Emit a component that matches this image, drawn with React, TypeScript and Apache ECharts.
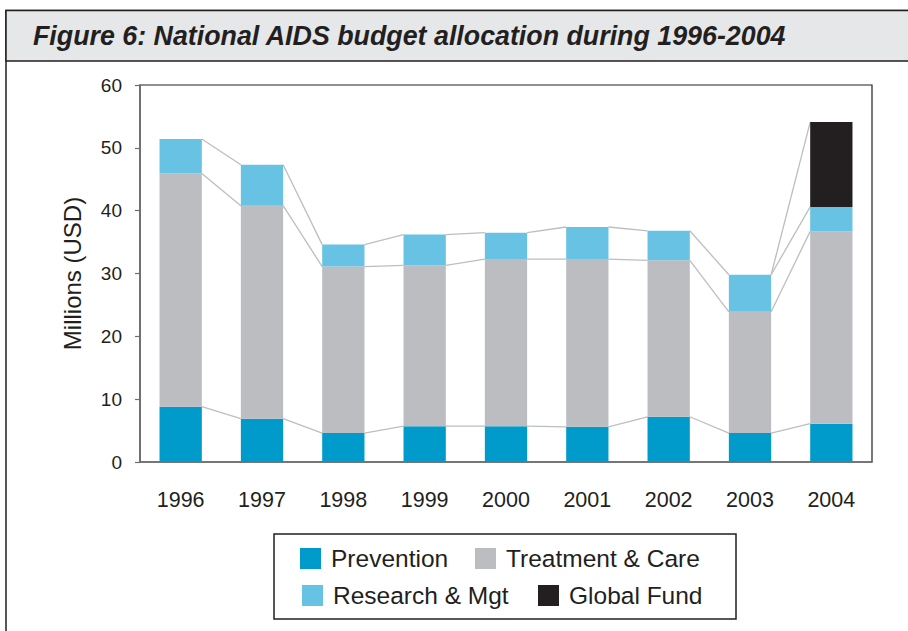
import React, { useEffect, useRef } from "react";
import * as echarts from "echarts";

const years = ["1996", "1997", "1998", "1999", "2000", "2001", "2002", "2003", "2004"];
const prevention = [8.8, 6.9, 4.6, 5.7, 5.7, 5.6, 7.2, 4.6, 6.1];
const treatment = [37.1, 33.9, 26.5, 25.6, 26.6, 26.7, 24.9, 19.3, 30.6];
const research = [5.5, 6.5, 3.5, 4.9, 4.2, 5.1, 4.7, 5.9, 3.9];
const globalFund = [0, 0, 0, 0, 0, 0, 0, 0, 13.5];
const seriesNames = ["Prevention", "Treatment & Care", "Research & Mgt", "Global Fund"];
const colors = ["#009BCB", "#BCBDC1", "#67C2E3", "#231F20"];
const yMin = 0;
const yMax = 60;
const yStep = 10;
const titleText = "Figure 6: National AIDS budget allocation during 1996-2004";
const yAxisName = "Millions (USD)";

export default function App() {
  const ref = useRef<HTMLDivElement>(null);
  useEffect(() => {
    const chart = echarts.init(ref.current!, null, { renderer: "svg" });
    const stacks = [prevention, treatment, research, globalFund];
    const cum: number[][] = [];
    let running = years.map(() => 0);
    stacks.forEach((s) => {
      running = running.map((v, i) => v + s[i]);
      cum.push(running.slice());
    });
    const links: number[][] = [];
    stacks.forEach((s, k) => {
      for (let i = 0; i < years.length - 1; i++) {
        if (s[i] === 0 && s[i + 1] === 0) continue;
        links.push([i, cum[k][i], cum[k][i + 1]]);
      }
    });
    const font = "'Liberation Sans', Arial, Helvetica, sans-serif";
    const txt = "#231F20";
    const legendBase = {
      orient: "horizontal",
      padding: 0,
      itemWidth: 21,
      itemHeight: 21,
      icon: "rect",
      selectedMode: false,
      textStyle: { fontFamily: font, fontSize: 24.5, color: txt, padding: [0, 0, 0, 5] },
    };
    chart.setOption({
      animation: false,
      backgroundColor: "#ffffff",
      title: {
        text: titleText,
        left: 33,
        top: 22,
        padding: 0,
        textStyle: {
          fontFamily: font,
          fontSize: 26.8,
          fontWeight: "bold",
          fontStyle: "italic",
          color: txt,
        },
      },
      graphic: [
        {
          type: "rect",
          z: -10,
          shape: { x: 6, y: 10.5, width: 930, height: 700 },
          style: { fill: "#ffffff", stroke: "#231F20", lineWidth: 1.5 },
        },
        {
          type: "rect",
          z: -9,
          shape: { x: 6, y: 10.5, width: 930, height: 50.5 },
          style: { fill: "#E6E7E8", stroke: "#231F20", lineWidth: 1.5 },
        },
        {
          type: "rect",
          z: -8,
          shape: { x: 274, y: 534, width: 462, height: 85 },
          style: { fill: "#ffffff", stroke: "#231F20", lineWidth: 1.5 },
        },
      ],
      legend: [
        { ...legendBase, data: [seriesNames[0]], left: 300, top: 546 },
        { ...legendBase, data: [seriesNames[1]], left: 475, top: 546 },
        { ...legendBase, data: [seriesNames[2]], left: 302, top: 583 },
        { ...legendBase, data: [seriesNames[3]], left: 538, top: 583 },
      ],
      grid: {
        left: 140,
        right: 36,
        top: 85,
        bottom: 169,
        show: true,
        borderColor: "#231F20",
        borderWidth: 1.2,
        backgroundColor: "transparent",
      },
      xAxis: {
        type: "category",
        data: years,
        axisTick: { show: false },
        axisLine: { lineStyle: { color: "#6D6E71", width: 1.5 } },
        axisLabel: { fontFamily: font, fontSize: 21.5, color: txt, margin: 27 },
      },
      yAxis: {
        type: "value",
        min: yMin,
        max: yMax,
        interval: yStep,
        name: yAxisName,
        nameLocation: "middle",
        nameGap: 56,
        nameTextStyle: { fontFamily: font, fontSize: 24, color: txt },
        splitLine: { show: false },
        axisLine: { show: true, lineStyle: { color: "#6D6E71", width: 1.5 } },
        axisTick: { show: true, length: 5, lineStyle: { color: "#6D6E71", width: 1.2 } },
        axisLabel: { fontFamily: font, fontSize: 19, color: txt, margin: 18, padding: [8, 0, 0, 0] },
      },
      series: [
        ...stacks.map((s, k) => ({
          name: seriesNames[k],
          type: "bar",
          stack: "total",
          barWidth: "52%",
          data: s,
          itemStyle: { color: colors[k] },
          emphasis: { disabled: true },
        })),
        {
          name: "links",
          type: "custom",
          silent: true,
          z: 1,
          data: links,
          encode: { x: 0, y: [1, 2] },
          renderItem: (params: any, api: any) => {
            const i = api.value(0);
            const p0 = api.coord([i, api.value(1)]);
            const p1 = api.coord([i + 1, api.value(2)]);
            const band = api.size([1, 0])[0];
            const half = band * 0.26;
            return {
              type: "line",
              shape: { x1: p0[0] + half, y1: p0[1], x2: p1[0] - half, y2: p1[1] },
              style: { stroke: "#BDBEC0", lineWidth: 1.3 },
            };
          },
        },
      ],
    });
    return () => chart.dispose();
  }, []);
  return (
    <div
      ref={ref}
      style={{ position: "absolute", left: 0, top: 0, width: 908, height: 631 }}
    />
  );
}
